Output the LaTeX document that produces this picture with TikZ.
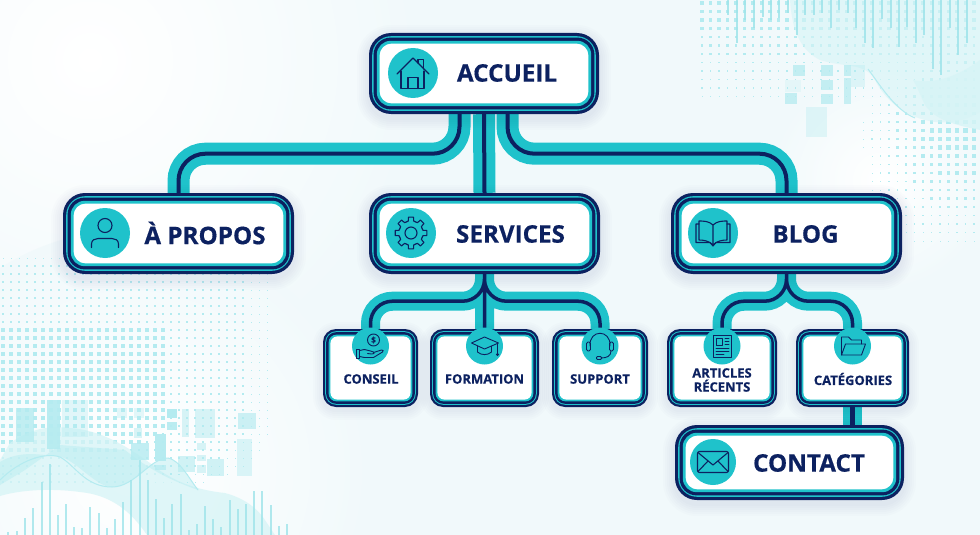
\documentclass[tikz,border=0pt]{standalone}
\usepackage{fontspec}
\setmainfont{Open Sans}[BoldFeatures={FakeBold=0.5}]
\usetikzlibrary{calc}
\definecolor{navyc}{HTML}{0C2160}
\definecolor{tealc}{HTML}{1FC2CB}
\definecolor{bgc}{HTML}{F1F9FB}
\definecolor{decoa}{HTML}{B4EBF0}
\definecolor{decob}{HTML}{9FE4EA}
\definecolor{decoc}{HTML}{D6F4F6}
\pgfdeclarelayer{deco}
\pgfdeclarelayer{wires}
\pgfsetlayers{deco,wires,main}
\tikzset{
  frame/.style={rectangle,fill=navyc,inner sep=0pt,text=navyc},
  bigteal/.style={draw=tealc,line width=22pt,rounded corners=27pt},
  bignavy/.style={draw=navyc,line width=4pt,rounded corners=27pt},
  smallteal/.style={draw=tealc,line width=19pt,rounded corners=22pt},
  smallnavy/.style={draw=navyc,line width=3.5pt,rounded corners=22pt},
  iconbig/.style={circle,fill=tealc,minimum size=50pt,inner sep=0pt},
  iconsmall/.style={circle,fill=tealc,minimum size=37pt,inner sep=0pt},
  glyph/.style={draw=navyc,line width=1.1pt,line cap=round,line join=round},
  bigtext/.style={inner sep=0pt,text=navyc,font=\fontsize{24.2}{26}\selectfont\bfseries},
  smalltext/.style={inner sep=0pt,text=navyc,align=center,font=\fontsize{13}{14}\selectfont\bfseries},
}
\newcommand{\frbox}[6]{%
  \foreach \s in {12,10,8,6,4,2}{%
    \fill[navyc,opacity=.012,rounded corners=#6pt+\s pt] (#2-\s,#3-\s+4) rectangle (#4+\s,#5+\s+4);}
  \node[frame,rounded corners=#6pt,minimum width=#4pt-#2pt,minimum height=#5pt-#3pt] (#1) at ({(#2+#4)/2},{(#3+#5)/2}) {};
  \fill[tealc,rounded corners=#6pt-3pt] ([shift={(3.4,3.4)}]#1.north west) rectangle ([shift={(-3.4,-3.4)}]#1.south east);
  \fill[navyc,rounded corners=#6pt-5pt] ([shift={(4.8,4.8)}]#1.north west) rectangle ([shift={(-4.8,-4.8)}]#1.south east);
  \fill[tealc,rounded corners=#6pt-8pt] ([shift={(8,8)}]#1.north west) rectangle ([shift={(-8,-8)}]#1.south east);
  \fill[white,rounded corners=#6pt-10pt] ([shift={(10.8,10.8)}]#1.north west) rectangle ([shift={(-10.8,-10.8)}]#1.south east);
}
\newcommand{\smbox}[6]{%
  \foreach \s in {10,8,6,4,2}{%
    \fill[navyc,opacity=.012,rounded corners=#6pt+\s pt] (#2-\s,#3-\s+3) rectangle (#4+\s,#5+\s+3);}
  \node[frame,rounded corners=#6pt,minimum width=#4pt-#2pt,minimum height=#5pt-#3pt] (#1) at ({(#2+#4)/2},{(#3+#5)/2}) {};
  \fill[tealc,rounded corners=#6pt-2pt] ([shift={(2.4,2.4)}]#1.north west) rectangle ([shift={(-2.4,-2.4)}]#1.south east);
  \fill[navyc,rounded corners=#6pt-3pt] ([shift={(3.4,3.4)}]#1.north west) rectangle ([shift={(-3.4,-3.4)}]#1.south east);
  \fill[tealc,rounded corners=#6pt-5pt] ([shift={(5.8,5.8)}]#1.north west) rectangle ([shift={(-5.8,-5.8)}]#1.south east);
  \fill[white,rounded corners=#6pt-6pt] ([shift={(7.6,7.6)}]#1.north west) rectangle ([shift={(-7.6,-7.6)}]#1.south east);
}
\begin{document}
\begin{tikzpicture}[x=1pt,y=-1pt]
\useasboundingbox (0,0) rectangle (980,535);
\begin{pgfonlayer}{deco}
\begin{scope}
\clip (0,0) rectangle (980,535);
\fill[bgc] (0,0) rectangle (980,535);
\shade[inner color=white,outer color=bgc] (90,60) circle (330pt);
\shade[inner color=white,outer color=bgc] (130,470) circle (240pt);
\shade[inner color=white,outer color=bgc] (880,180) circle (110pt);
% dots left
\foreach \ix in {0,...,37}{\foreach \iy in {0,...,29}{%
  \pgfmathsetmacro{\px}{3+8*\ix}\pgfmathsetmacro{\py}{250+8*\iy}%
  \pgfmathsetmacro{\sz}{min(4.4*max(0,min(1,(290-\px)/180)),4.4*max(0,min(1,(\py-235)/135)))*(\py>430?max(0,(500-\py)/70):1)}%
  \ifdim\sz pt>0.5pt \fill[decoa] (\px-\sz/2,\py-\sz/2) rectangle ++(\sz,\sz);\fi}}
% dots upper right
\foreach \ix in {0,...,33}{\foreach \iy in {0,...,32}{%
  \pgfmathsetmacro{\px}{702+8.5*\ix}\pgfmathsetmacro{\py}{3+8.5*\iy}%
  \pgfmathsetmacro{\sa}{4*max(0,(118-\py)/118)}%
  \pgfmathsetmacro{\sb}{4.6*max(0,min(1,(\px-850)/90))*max(0,1-abs(\py-135)/130)}%
  \pgfmathsetmacro{\sz}{max(\sa,\sb)}%
  \ifdim\sz pt>0.6pt \fill[decoa] (\px-\sz/2,\py-\sz/2) rectangle ++(\sz,\sz);\fi}}
% blobs upper right
\fill[decoc,opacity=.6] (790,0) .. controls (792,30) and (800,50) .. (820,60) .. controls (845,68) and (865,62) .. (875,80) .. controls (885,100) and (905,118) .. (935,122) .. controls (955,124) and (970,118) .. (980,112) -- (980,0) -- cycle;
\fill[decoc,opacity=.8] (913,80) .. controls (935,85) and (960,75) .. (980,60) -- (980,130) .. controls (955,125) and (935,120) .. (925,105) .. controls (920,95) and (918,88) .. (913,80) -- cycle;
\draw[decoa,line width=1pt] (868,69) .. controls (880,85) and (895,110) .. (915,118);
% bars top right
\foreach \zx/\zy in {85/45,110/130,135/60,163/85,188/50,213/60,238/55,265/40,290/105,316/45,342/45,367/38,392/85,418/30,443/40,469/85,495/130,520/145,546/58,572/85,597/140,622/80,648/130,673/105,698/208,724/225,750/85,775/165,801/130}{%
  \fill[decob,opacity=.85] (700+\zx/3-.9,0) rectangle (700+\zx/3+.9,\zy/3);}
% squares top right
\foreach \zx/\zy/\zw/\zh/\op in {280/195/36/33/.75,362/195/36/33/.75,433/195/20/33/.75,453/195/42/65/.35,362/240/36/30/.75,433/235/20/78/.7,255/280/37/33/.75,362/282/36/30/.75,255/240/48/35/.2,317/320/63/92/.35}{%
  \fill[decoa,opacity=\op] (700+\zx/3,\zy/3) rectangle ++(\zw/3,\zh/3);}
% hills bottom left
\fill[decoc,opacity=.75] (0,460) -- (10,443) .. controls (30,430) and (45,425) .. (70,428) .. controls (100,430) and (125,445) .. (150,463) .. controls (170,480) and (195,490) .. (225,493) .. controls (240,497) and (255,505) .. (265,520) -- (275,535) -- (147,535) .. controls (130,510) and (110,495) .. (80,492) .. controls (50,488) and (20,490) .. (0,496) -- cycle;
\fill[decoa,opacity=.45] (0,462) .. controls (20,450) and (40,455) .. (57,456) .. controls (75,458) and (95,487) .. (112,487) .. controls (135,487) and (150,458) .. (168,458) .. controls (180,460) and (190,480) .. (198,490) .. controls (170,480) and (150,470) .. (125,450) -- (60,445) -- (25,470) -- (0,485) -- cycle;
\draw[decoa,line width=1pt] (0,480) .. controls (20,460) and (45,452) .. (60,457) .. controls (75,465) and (85,487) .. (112,487) .. controls (135,487) and (150,458) .. (168,458) .. controls (180,460) and (190,480) .. (198,490);
% bars bottom left
\foreach \zx/\zy in {25/455,50/452,75/415,100/385,125/305,150/252,173/405,197/372,222/442,247/445,271/382,296/398,320/445,345/417,370/366,394/300,419/240,443/300,468/356,492/414,517/372,542/342,566/450,591/432,615/378,640/418,664/440,689/360,713/388,738/372,762/333,787/333,812/375,836/438,860/433}{%
  \fill[decob,opacity=.8] (\zx/3-.9,380+\zy/3) rectangle (\zx/3+.9,535);}
% squares bottom left
\foreach \zx/\zy/\zw/\zh/\op in {350/85/30/28/.35,403/85/30/30/.35,402/145/25/30/.5,502/88/28/25/1,502/125/30/26/.9,546/87/22/83/.5,584/87/60/87/.5,715/100/52/48/.65,712/177/43/110/.45,590/190/28/20/.5,590/224/28/20/.5,590/256/28/22/.5,620/238/52/50/.6,533/228/52/47/.6,466/162/32/82/.95,466/255/32/15/.7,140/60/40/148/.9,47/85/55/100/.8,185/60/80/110/.35,393/190/55/50/.8}{%
  \fill[decoa,opacity=\op] (\zx/3,380+\zy/3) rectangle ++(\zw/3,\zh/3);}
\end{scope}
\end{pgfonlayer}

% main boxes
\frbox{accueil}{369}{33}{599}{114}{22}
\frbox{apropos}{63}{193}{294}{274}{22}
\frbox{services}{369}{193}{600}{274}{22}
\frbox{blog}{671}{193}{902}{274}{22}
\frbox{contact}{675}{425}{904}{500}{22}
\smbox{conseil}{323}{329}{418}{407}{13}
\smbox{formation}{430}{329}{539}{407}{13}
\smbox{support}{552}{329}{648}{407}{13}
\smbox{articles}{667}{329}{777}{407}{13}
\smbox{categories}{796}{329}{909}{407}{13}

% connectors
\begin{pgfonlayer}{wires}
\def\toppaths{([xshift=-24.5pt]accueil.south) -- ++(0,39.5) -| (apropos.north)
  (accueil.south) -- (services.north)
  ([xshift=23.5pt]accueil.south) -- ++(0,39.5) -| (blog.north)}
\draw[bigteal] \toppaths;
\draw[bignavy] \toppaths;
\def\svcpaths{(services.south) -- ++(0,27) -| (conseil.north)
  (services.south) -- ++(0,27) -| (support.north)
  (services.south) -- (formation.north)}
\draw[smallteal] \svcpaths;
\draw[smallnavy] \svcpaths;
\def\blogpaths{(blog.south) -- ++(0,27) -| (articles.north)
  (blog.south) -- ++(0,27) -| (categories.north)}
\draw[smallteal] \blogpaths;
\draw[smallnavy] \blogpaths;
\draw[draw=tealc,line width=19pt] (categories.south) -- (categories.south |- contact.north);
\draw[draw=navyc,line width=4.5pt] (categories.south) -- (categories.south |- contact.north);
\end{pgfonlayer}

% icon discs
\node[iconbig] (ihome) at (413,73) {};
\node[iconbig] (iperson) at (105,233) {};
\node[iconbig] (igear) at (411,233) {};
\node[iconbig] (ibook) at (713,233) {};
\node[iconbig,minimum size=46pt] (imail) at (713,462) {};
\node[iconsmall] (imoney) at (370.5,346) {};
\node[iconsmall] (icap) at (484.5,346) {};
\node[iconsmall] (ihead) at (600,346) {};
\node[iconsmall] (inews) at (722,346) {};
\node[iconsmall] (ifold) at (852.5,346) {};

% glyphs
\begin{scope}[shift={(ihome.center)},glyph]
  \draw (-16,1) -- (0,-15) -- (16,1);
  \draw (5,-10) -- (5,-13.5) -- (10.5,-13.5) -- (10.5,-4);
  \draw (-12,-2) -- (-12,15.5) -- (11,15.5) -- (11,-2);
  \draw (-5,15.5) -- (-5,4.5) -- (5,4.5) -- (5,15.5);
\end{scope}
\begin{scope}[shift={(iperson.center)},glyph]
  \draw (0,-7.5) circle (7pt);
  \draw (-13.5,14.5) -- (-13.5,11) .. controls (-13.5,7) and (-10,5.5) .. (-7,5.5) -- (7,5.5) .. controls (10,5.5) and (13.5,7) .. (13.5,11) -- (13.5,14.5);
\end{scope}
\begin{scope}[shift={(igear.center)},glyph]
  \draw (0,0) circle (6pt);
  \foreach \a in {0,45,...,315}{
    \draw ({\a-22.5}:12) -- ({\a-13}:12.2) -- ({\a-9}:16) -- ({\a+9}:16) -- ({\a+13}:12.2) -- ({\a+22.5}:12);}
\end{scope}
\begin{scope}[shift={(ibook.center)},glyph]
  \draw (0,-8) .. controls (-4,-12) and (-10,-12) .. (-14,-12) -- (-14,7) .. controls (-9,7) and (-4,8) .. (0,12) .. controls (4,8) and (9,7) .. (14,7) -- (14,-12) .. controls (10,-12) and (4,-12) .. (0,-8) -- (0,12);
  \draw (-14,-9) -- (-17,-9) -- (-17,9.5) -- (-3,9.5) -- (0,13) -- (3,9.5) -- (17,9.5) -- (17,-9) -- (14,-9);
\end{scope}
\begin{scope}[shift={(imail.center)},glyph]
  \draw[rounded corners=2pt] (-15.5,-10.5) rectangle (15.5,10.5);
  \draw (-15,-9.5) -- (0,3) -- (15,-9.5);
  \draw (-15,9.5) -- (-5,-1);
  \draw (15,9.5) -- (5,-1);
\end{scope}
\begin{scope}[shift={(imoney.center)},glyph,line width=.9pt]
  \draw (3,-6) circle (6pt);
  \node[inner sep=0pt,text=navyc,font=\fontsize{8}{8}\selectfont\bfseries] (idollar) at (3,-6) {\$};
  \draw (-14,3) rectangle (-11,12);
  \draw (-11,4.5) -- (-6,3.5) -- (0,5) -- (3,6) .. controls (5,7) and (3,8.5) .. (1,8) -- (-3,7.5);
  \draw (3,6.5) -- (11,4) .. controls (13,3.5) and (13,5.5) .. (12,6) -- (3,11.5) -- (-6,11.5) -- (-11,10.5);
\end{scope}
\begin{scope}[shift={(icap.center)},glyph,line width=.9pt]
  \draw (-13,-3) -- (0,-9) -- (14,-3) -- (0,3) -- cycle;
  \draw (-7,0) -- (-7,6) .. controls (-3,9.5) and (3,9.5) .. (7,6) -- (7,0);
  \draw (13,-3) -- (13,7);
  \fill[navyc] (13,8.5) circle (1.7pt);
\end{scope}
\begin{scope}[shift={(ihead.center)},glyph,line width=.9pt]
  \draw (-10,0) .. controls (-11,-17) and (11,-17) .. (10,0);
  \draw[rounded corners=1.5pt] (-13.5,-4) rectangle (-9.5,5);
  \draw[rounded corners=1.5pt] (9.5,-4) rectangle (13.5,5);
  \draw (11,5) .. controls (11,10) and (7,12) .. (1,12);
  \draw[rounded corners=1pt] (-3.5,10.5) rectangle (1.5,13.5);
\end{scope}
\begin{scope}[shift={(inews.center)},glyph,line width=.9pt]
  \draw (-9,-11) rectangle (9,11);
  \draw (-6,-8) rectangle (0,-1);
  \draw (3,-8) -- (7,-8) (3,-5) -- (7,-5) (3,-2) -- (7,-2) (-6,2) -- (7,2) (-6,5) -- (7,5) (-6,8) -- (2,8);
\end{scope}
\begin{scope}[shift={(ifold.center)},glyph,line width=.9pt]
  \draw (-11,9) -- (-11,-9) -- (-4,-9) -- (-1,-6) -- (9,-6) -- (9,-2);
  \draw (-11,9) -- (-7,-2) -- (13,-2) -- (9,9) -- cycle;
\end{scope}

% labels
\node[bigtext] (taccueil) at (507,73) {ACCUEIL};
\node[bigtext] (tapropos) at (205,233) {À PROPOS};
\node[bigtext] (tservices) at (510.5,234) {SERVICES};
\node[bigtext] (tblog) at (805.5,234) {BLOG};
\node[bigtext] (tcontact) at (809,463) {CONTACT};
\node[smalltext] (tconseil) at (371,379) {CONSEIL};
\node[smalltext] (tformation) at (484.5,379) {FORMATION};
\node[smalltext] (tsupport) at (600,379) {SUPPORT};
\node[smalltext] (tarticles) at (722,380) {ARTICLES\\RÉCENTS};
\node[smalltext] (tcategories) at (853,379) {CATÉGORIES};
\end{tikzpicture}
\end{document}
